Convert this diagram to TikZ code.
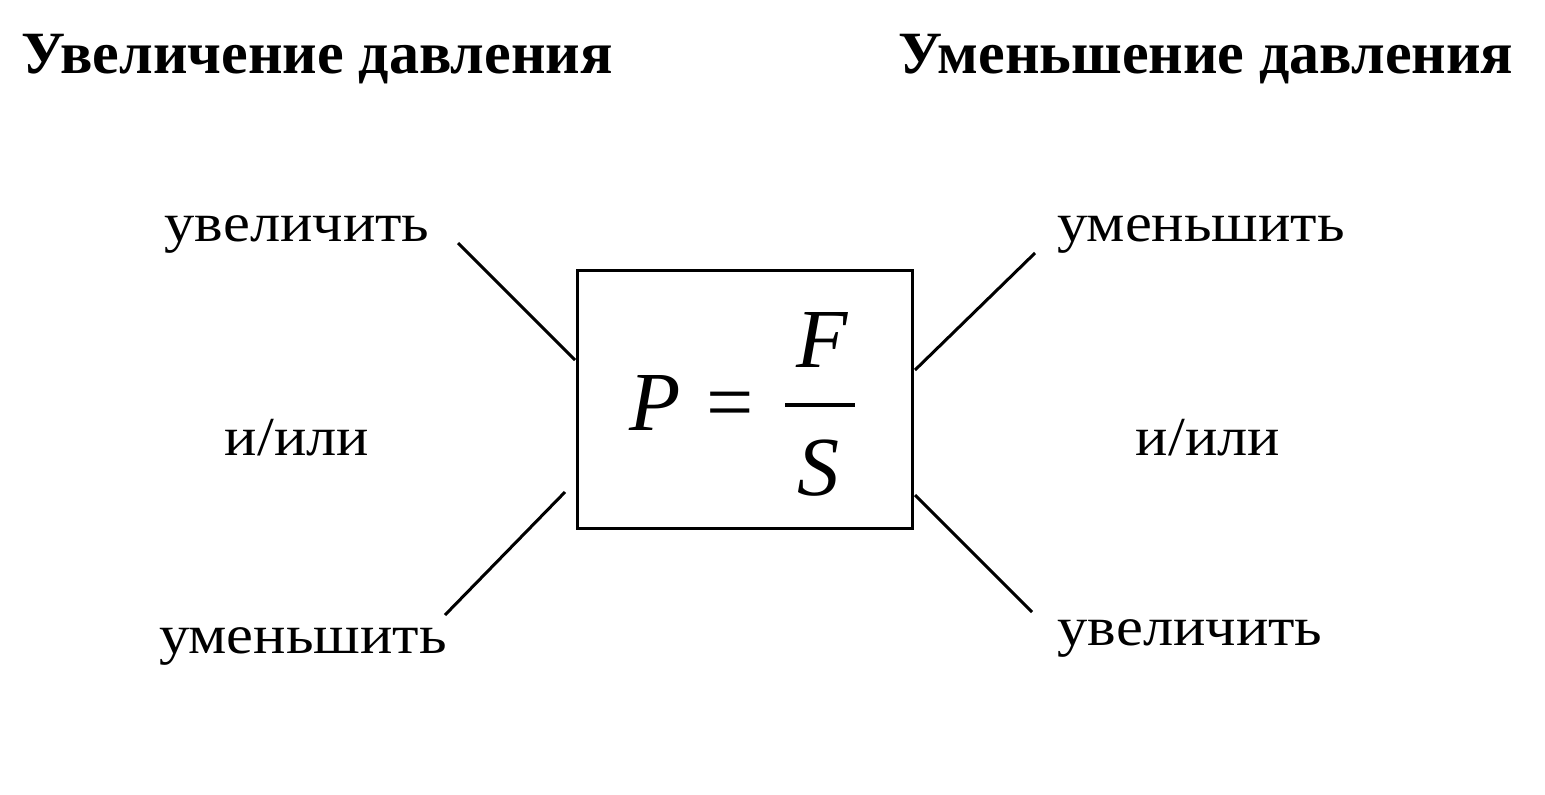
\documentclass[tikz,border=0pt]{standalone}
\usepackage{fontspec}
\setmainfont{Liberation Serif}
\newfontfamily\lblfont[FakeStretch=1.1]{Liberation Serif}
\begin{document}
\begin{tikzpicture}[x=0.5pt,y=-0.5pt,
  head/.style={inner sep=0pt,anchor=base,font=\fontsize{30}{34}\selectfont\bfseries},
  lbl/.style={inner sep=0pt,anchor=base,font=\fontsize{27.5}{32}\lblfont},
  mth/.style={inner sep=0pt,anchor=base,font=\fontsize{42}{48}\selectfont\itshape},
  conn/.style={line width=1.5pt},
  formbox/.style={draw,line width=1.5pt,minimum width=335*0.5pt,minimum height=258*0.5pt,inner sep=0pt}]
\useasboundingbox[fill=white] (0,0) rectangle (1545,794);
\node[head] (hl) at (317,73) {Увеличение давления};
\node[head] (hr) at (1206,73) {Уменьшение давления};
\node[formbox] (box) at (744.5,399) {};
\node[mth] (fP) at (655,430) {P};
\node[mth,font=\fontsize{42}{48}\selectfont] (feq) at (730,430) {=};
\node[mth] (fF) at (822,367) {F};
\node[mth] (fS) at (818,495) {S};
\coordinate (bl) at (785,405); \coordinate (br) at (855,405);
\draw[line width=1.6pt] (bl) -- (br);
\node[lbl] (l1) at (297,241) {увеличить};
\node[lbl] (l2) at (297,455) {и/или};
\node[lbl] (l3) at (303,653) {уменьшить};
\node[lbl] (r1) at (1201,241) {уменьшить};
\node[lbl] (r2) at (1208,455) {и/или};
\node[lbl] (r3) at (1190,645) {увеличить};
\coordinate (a1) at (458,243); \coordinate (b1) at (575,360);
\coordinate (a2) at (445,615); \coordinate (b2) at (565,492);
\coordinate (a3) at (1035,253); \coordinate (b3) at (915,370);
\coordinate (a4) at (1032,612); \coordinate (b4) at (915,495);
\draw[conn] (a1) -- (b1);
\draw[conn] (a2) -- (b2);
\draw[conn] (a3) -- (b3);
\draw[conn] (a4) -- (b4);
\end{tikzpicture}
\end{document}
